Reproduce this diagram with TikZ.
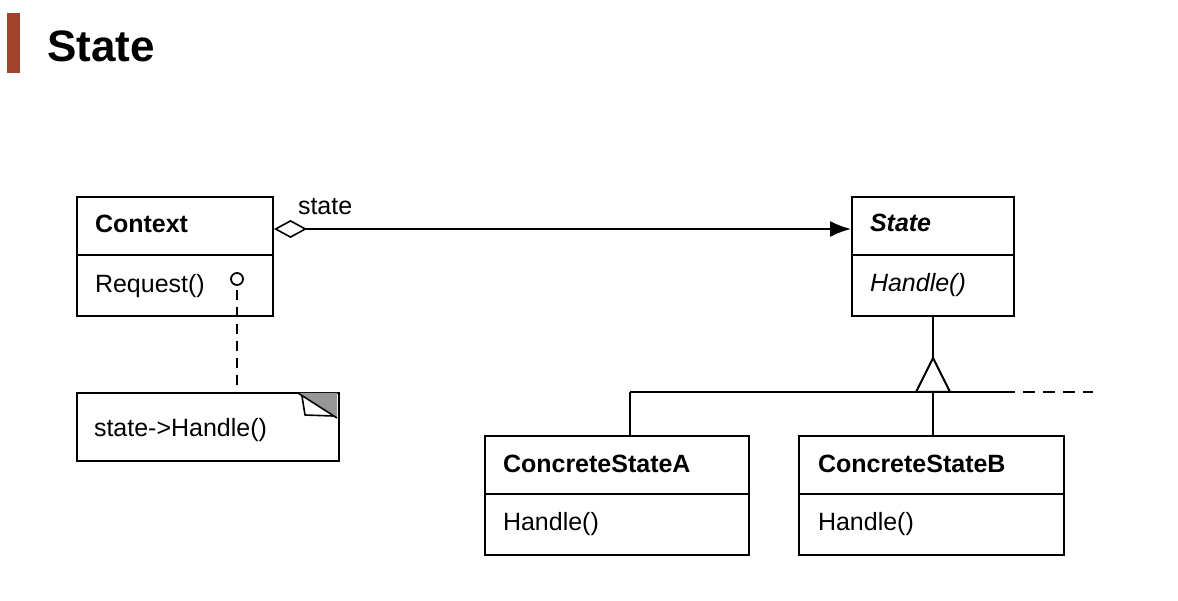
\documentclass[tikz,border=0pt]{standalone}
\usepackage{fontspec}
\setmainfont{Liberation Sans}
\usetikzlibrary{arrows.meta}
\definecolor{titlered}{RGB}{160,68,44}
\definecolor{foldgray}{RGB}{150,150,150}
\begin{document}
\begin{tikzpicture}[x=1pt,y=-1pt, line width=2pt,
  box/.style={draw, rectangle, anchor=north west, inner sep=0pt, fill=white},
  txt/.style={anchor=base west, inner sep=0pt, font=\fontsize{25}{30}\selectfont},
  divider/.style={line width=2pt}]
\useasboundingbox (0,0) rectangle (1178,601);
% title
\fill[titlered] (7,13) rectangle (20,73);
\node[anchor=base west, inner sep=0pt, font=\bfseries\fontsize{44}{50}\selectfont] (title) at (46,62) {State};
% boxes
\node[box, minimum width=196pt, minimum height=119pt] (ctx) at (76,196) {};
\node[box, minimum width=162pt, minimum height=119pt] (st) at (851,196) {};
\node[box, minimum width=264pt, minimum height=119pt] (csa) at (484,435) {};
\node[box, minimum width=265pt, minimum height=119pt] (csb) at (798,435) {};
\node[draw, rectangle, anchor=north west, inner sep=0pt, minimum width=262pt, minimum height=68pt] (note) at (76,392) {};
\fill[foldgray] (299,393) -- (337,393) -- (337,418) -- cycle;
\draw[line width=1.6pt, line join=round] (298,393) -- (337,418);
\draw[line width=1.6pt, line join=round] (302,396) -- (305,415) -- (333,416);
% dividers
\draw[divider] (ctx.west |- 0,255) -- (ctx.east |- 0,255);
\draw[divider] (st.west |- 0,255) -- (st.east |- 0,255);
\draw[divider] (csa.west |- 0,494) -- (csa.east |- 0,494);
\draw[divider] (csb.west |- 0,494) -- (csb.east |- 0,494);
% texts
\node[txt, font=\bfseries\fontsize{25}{30}\selectfont] (ctxname) at (94,233) {Context};
\node[txt] (ctxop) at (94,293) {Request()};
\node[txt, font=\bfseries\itshape\fontsize{25}{30}\selectfont] (stname) at (869,232) {State};
\node[txt, font=\itshape\fontsize{25}{30}\selectfont] (stop) at (869,292) {Handle()};
\node[txt, font=\bfseries\fontsize{25}{30}\selectfont] (csaname) at (502,472) {ConcreteStateA};
\node[txt] (csaop) at (502,530) {Handle()};
\node[txt, font=\bfseries\fontsize{25}{30}\selectfont] (csbname) at (817,472) {ConcreteStateB};
\node[txt] (csbop) at (817,530) {Handle()};
\node[txt] (notetext) at (93,436) {state->Handle()};
\node[txt] (assoclabel) at (297,215) {state};
% association
\draw[{Diamond[open,length=33pt,width=18pt,line width=1.6pt]}-{Latex[length=21pt,width=16pt]}]
  ([yshift=-33pt]ctx.north east) -- ([yshift=-33pt]st.north west);
% note link
\node[draw, circle, minimum size=12pt, inner sep=0pt, line width=1.8pt, fill=white] (nc) at (237,279) {};
\draw[dash pattern=on 10pt off 7pt, dash phase=-4pt] (nc.south) -- (note.north -| nc.south);
% inheritance
\coordinate (tt) at (st.south |- 0,358);
\coordinate (hl) at (630,392);
\coordinate (hr) at (1003,392);
\coordinate (hd) at (1093,392);
\draw (st.south) -- (tt);
\draw[line join=miter] (tt) -- ++(-17,34) -- ++(34,0) -- cycle;
\draw (hl) -- (hr);
\draw[dash pattern=on 12pt off 8pt] (hr) -- (hd);
\draw (hl) -- (hl |- csa.north);
\draw (tt |- hl) -- (tt |- csb.north);
\end{tikzpicture}
\end{document}
